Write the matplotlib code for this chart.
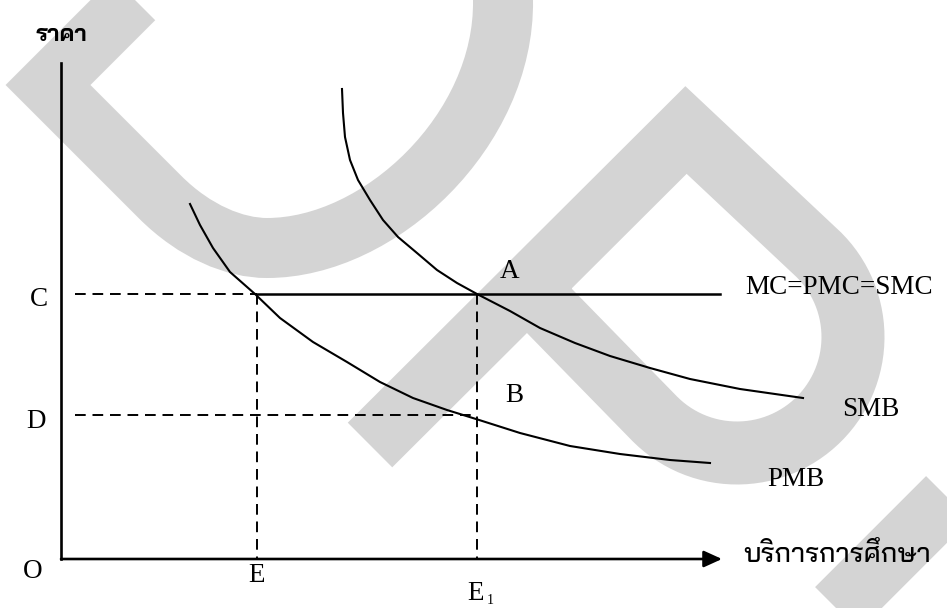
import matplotlib
matplotlib.use('Agg')
import matplotlib.pyplot as plt
from matplotlib import font_manager
from matplotlib.ft2font import FT2Font
from matplotlib.path import Path
import matplotlib.patches as mpatches
import numpy as np

# values (x = quantity of education, y = price, origin at O)
smb_x = [281, 282, 284, 289, 297, 309, 322, 337, 356, 376, 396, 416,
         449, 479, 514, 549, 589, 629, 679, 742]
smb_y = [470, 446, 422, 399, 379, 359, 339, 322, 306, 289, 276, 265,
         248, 231, 216, 203, 191, 180, 170, 161]
pmb_x = [129, 139, 152, 169, 194, 219, 252, 286, 319, 352, 386, 415,
         459, 509, 559, 609, 649]
pmb_y = [355, 334, 311, 287, 265, 241, 217, 197, 177, 161, 149, 140,
         126, 113, 105, 99, 96]
mc_price = 265      # C
mc_end = 659
pmb_price = 144     # D
q_private = 196     # E
q_social = 416      # E1
x_axis_end = 661
y_axis_end = 496


def thai_families():
    found = []
    for f in font_manager.fontManager.ttflist:
        try:
            if FT2Font(f.fname).get_char_index(ord('ร')) and f.name not in found:
                found.append(f.name)
        except Exception:
            pass
    return found


thai = thai_families()
thai_font = 'DejaVu Sans'
for name in ['Bai Jamjuree', 'Anuphan', 'Loma']:
    if name in thai:
        thai_font = name
        break
else:
    if thai:
        thai_font = thai[0]
serif = 'Liberation Serif'

fig = plt.figure(figsize=(9.47, 6.08), dpi=100)

# grey watermark behind the drawing (pixel coordinates, y down)
bg = fig.add_axes([0, 0, 1, 1])
bg.set_xlim(0, 947)
bg.set_ylim(608, 0)
bg.axis('off')
grey = '#d4d4d4'

wm1 = Path([(173, -40), (48, 85), (160, 197),
            (195, 232), (235, 248), (267, 248),
            (380, 248), (505, 130), (503, 0), (503, -40)],
           [Path.MOVETO, Path.LINETO, Path.LINETO,
            Path.CURVE4, Path.CURVE4, Path.CURVE4,
            Path.CURVE4, Path.CURVE4, Path.CURVE4, Path.LINETO])
bg.add_patch(mpatches.PathPatch(wm1, fill=False, ec=grey, lw=60 * 0.72,
                                joinstyle='miter', capstyle='butt'))

t = np.radians(np.linspace(-45, 135, 60))
arc = np.column_stack([737 + 116 * np.cos(t), 337 + 116 * np.sin(t)])
wm2 = np.vstack([[(370, 445), (686, 130)], arc, [(528, 289)]])
bg.plot(wm2[:, 0], wm2[:, 1], color=grey, lw=63 * 0.72,
        solid_joinstyle='miter', solid_capstyle='butt')
bg.plot([800, 1010], [646, 436], color=grey, lw=62 * 0.72, solid_capstyle='butt')

# the diagram
ax = fig.add_axes([0, 0, 1, 1])
ax.set_xlim(-61, 886)
ax.set_ylim(-49, 559)
ax.axis('off')
ax.patch.set_alpha(0)

k = 'black'
dash = (0, (5.5, 3.5))
ax.plot([0, 0], [0, y_axis_end], color=k, lw=1.9)
ax.annotate('', xy=(x_axis_end, 0), xytext=(0, 0),
            arrowprops=dict(arrowstyle='-|>,head_length=0.55,head_width=0.25',
                            mutation_scale=20, lw=1.9, color=k,
                            shrinkA=0, shrinkB=0))

ax.plot([14, q_private], [mc_price, mc_price], color=k, lw=1.4, ls=dash)
ax.plot([q_private, mc_end], [mc_price, mc_price], color=k, lw=1.8)
ax.plot([14, q_social], [pmb_price, pmb_price], color=k, lw=1.4, ls=dash)
ax.plot([q_private, q_private], [mc_price, 0], color=k, lw=1.4, ls=dash)
ax.plot([q_social, q_social], [mc_price, 0], color=k, lw=1.4, ls=dash)

ax.plot(smb_x, smb_y, color=k, lw=1.5)
ax.plot(pmb_x, pmb_y, color=k, lw=1.5)

fs = 19.5
ax.text(-22, mc_price - 5, 'C', fontsize=fs, family=serif, ha='center', va='center')
ax.text(-25, pmb_price - 6, 'D', fontsize=fs, family=serif, ha='center', va='center')
ax.text(-28, -12, 'O', fontsize=fs, family=serif, ha='center', va='center')
ax.text(q_private, -17, 'E', fontsize=fs, family=serif, ha='center', va='center')
ax.text(q_social - 1, -34, 'E', fontsize=fs, family=serif, ha='center', va='center')
ax.text(q_social + 13, -41, '1', fontsize=10, family=serif, ha='center', va='center')
ax.text(q_social + 33, mc_price + 22, 'A', fontsize=fs, family=serif, ha='center', va='center')
ax.text(q_social + 37, pmb_price + 19, 'B', fontsize=fs, family=serif, ha='center', va='center')
ax.text(684, mc_price + 6, 'MC=PMC=SMC', fontsize=fs, family=serif, ha='left', va='center')
ax.text(810, 149, 'SMB', fontsize=fs, family=serif, ha='center', va='center')
ax.text(735, 79, 'PMB', fontsize=fs, family=serif, ha='center', va='center')

ax.text(0, 524, 'ราคา', fontsize=16.5, family=[thai_font, 'DejaVu Sans'],
        fontweight='bold', ha='center', va='center')
ax.text(682, 3, 'บริการการศึกษา', fontsize=19.5, family=[thai_font, 'DejaVu Sans'],
        fontweight='medium', ha='left', va='center')

fig.savefig('out.png', dpi=100)
